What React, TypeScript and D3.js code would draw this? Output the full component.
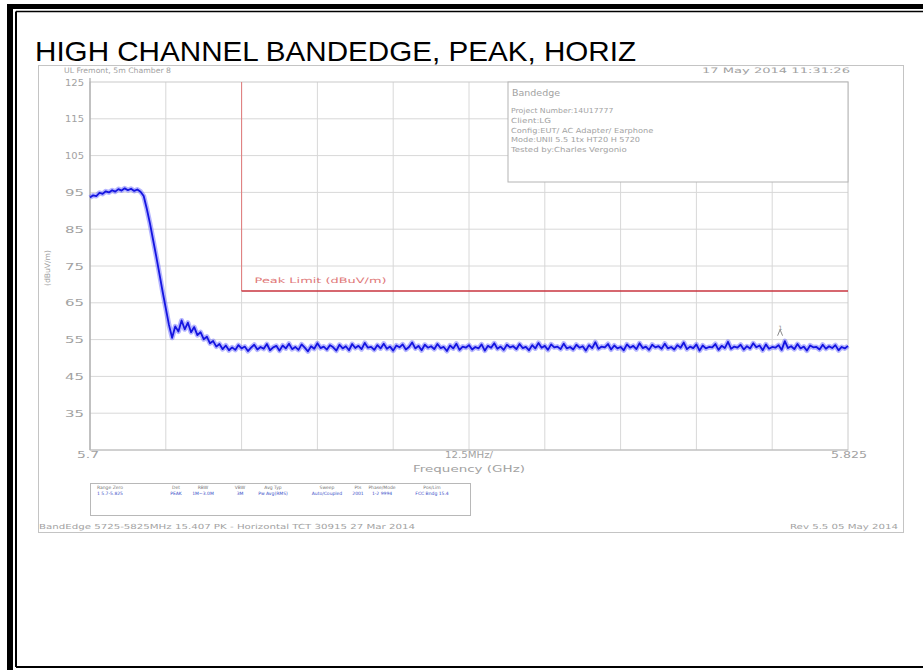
import React from "react";
import * as d3 from "d3";

const TITLE = "HIGH CHANNEL BANDEDGE, PEAK, HORIZ";
const F_START = 5.7;
const F_STOP = 5.825;
const Y_MIN = 25;
const Y_MAX = 125;
const yTicks = [125, 115, 105, 95, 85, 75, 65, 55, 45, 35];
const yGrid = [115, 105, 95, 85, 75, 65, 55, 45, 35];
const xDivisions = [1, 2, 3, 4, 5, 6, 7, 8, 9];
const DIV_MHZ = 12.5;

const limitStartFreq = 5.725;
const limitLevel = 68.2;
const limitLabel = "Peak Limit (dBuV/m)";

const plateauLevels = [93.6, 94.2, 94.0, 94.9, 94.6, 95.3, 95.0, 95.6, 95.2, 95.9, 95.5, 96.1, 95.6, 96.0, 95.4, 95.8, 95.2];
const rolloffLevels = [94.0, 90.5, 86.5, 82.0, 77.5, 72.8, 68.0, 63.5, 59.0, 55.5, 58.6, 57.2, 60.2, 57.8, 59.6, 57.0, 58.4, 56.2, 57.0, 55.1, 55.8, 54.0, 54.6, 53.1, 53.8, 52.4, 53.4, 52.1];
const floorLevels = [
  52.9, 52.2, 53.5, 52.6, 53.1, 51.9, 52.8, 53.6, 52.3, 53.0,
  52.5, 53.8, 52.1, 52.9, 53.3, 52.0, 53.4, 52.6, 53.9, 52.4,
  53.0, 52.2, 53.7, 52.8, 51.8, 53.2, 52.5, 54.0, 52.7, 53.1,
  52.3, 53.5, 52.9, 52.0, 53.6, 52.6, 53.2, 52.1, 53.8, 52.7,
  53.3, 52.4, 54.1, 52.8, 53.0, 52.2, 53.5, 52.6, 53.9, 52.5,
  53.1, 52.0, 53.4, 52.9, 53.7, 52.3, 53.0, 54.2, 52.6, 53.3,
  52.1, 53.6, 52.8, 53.2, 52.4, 53.8, 52.7, 53.0, 51.9, 53.4,
  52.6, 53.9, 52.2, 53.1, 52.8, 53.5, 52.3, 53.0, 52.6, 53.7,
  52.0, 53.3, 52.8, 54.0, 52.5, 53.1, 52.2, 53.6, 52.9, 53.2,
  52.4, 53.8, 52.7, 53.0, 52.1, 53.5, 52.6, 54.1, 52.8, 53.3,
  52.2, 53.7, 52.9, 53.1, 52.4, 53.9, 52.6, 53.0, 52.3, 53.6,
  52.8, 53.2, 52.0, 53.5, 52.7, 54.3, 52.5, 53.1, 52.9, 53.8,
  52.3, 53.4, 52.6, 53.0, 52.1, 53.7, 52.8, 53.3, 52.4, 54.0,
  52.7, 53.1, 52.2, 53.6, 52.9, 53.2, 52.5, 53.9, 52.6, 53.0,
  52.3, 53.5, 52.8, 54.2, 52.4, 53.1, 52.7, 53.7, 52.0, 53.4,
  52.6, 53.0, 52.9, 53.8, 52.2, 53.3, 52.7, 54.4, 52.5, 53.1,
  52.8, 53.6, 52.3, 53.2, 52.6, 54.0, 52.9, 53.4, 52.1, 53.7,
  52.5, 53.0, 52.8, 53.5, 52.2, 54.6, 52.7, 53.2, 52.4, 53.8,
  52.6, 53.1, 52.0, 53.4, 52.9, 53.0, 52.3, 53.6, 52.5, 53.2,
  52.7, 53.5, 52.1, 53.0, 52.6, 53.3,
];
const markerFreq = 5.8138;
const markerLevel = 56.6;

const infoLines = [
  "Project Number:14U17777",
  "Client:LG",
  "Config:EUT/ AC Adapter/ Earphone",
  "Mode:UNII 5.5 1tx HT20 H 5720",
  "Tested by:Charles Vergonio",
];
const tableHeaders = ["Range Zero", "Det", "RBW", "VBW", "Avg Typ", "Sweep", "Pts", "Phase/Mode", "Pos/Lim"];
const tableValues = ["1 5.7-5.825", "PEAK", "1M~3.0M", "3M", "Pw Avg(RMS)", "Auto/Coupled", "2001", "1-2 9994", "FCC Bndg 15.4"];
const tableCols = [110, 176, 203, 240, 273, 327, 358, 382, 432];

export default function App() {
  const W = 923, H = 670;
  const L = 90, R = 848, T = 82, B = 450;
  const levels = [...plateauLevels, ...rolloffLevels, ...floorLevels];
  const n = levels.length;
  const x = d3.scaleLinear().domain([F_START, F_STOP]).range([L, R]);
  const idx = d3.scaleLinear().domain([0, n - 1]).range([F_START, F_STOP]);
  const y = d3.scaleLinear().domain([Y_MIN, Y_MAX]).range([B, T]);
  const line = d3.line<number>().x((d, i) => x(idx(i))).y((d) => y(d));
  const gridFreqs = xDivisions.map((k) => F_START + (k * DIV_MHZ) / 1000);
  const gray = "#a2a2a2";
  const gridC = "#d8d8d8";
  const mono = "'DejaVu Sans', sans-serif";
  const boxL = 508, boxT = T, boxR = R, boxB = 182;
  const mx = x(markerFreq), my = y(markerLevel);
  const tracePath = line(levels) || "";

  return (
    <svg width={W} height={H} style={{ position: "absolute", left: 0, top: 0, background: "#fff" }}>
      {/* outer document frame */}
      <rect x={7} y={4} width={916} height={5} fill="#000" />
      <rect x={7} y={4} width={6} height={666} fill="#000" />
      <line x1={16} y1={11.5} x2={923} y2={11.5} stroke="#000" strokeWidth={1.5} />
      <line x1={16} y1={11.5} x2={16} y2={667} stroke="#000" strokeWidth={2} />
      <line x1={16} y1={667} x2={923} y2={667} stroke="#000" strokeWidth={2} />

      <text x={35} y={61} fontFamily="'Liberation Sans', Arial, sans-serif" fontSize={28} textLength={601} lengthAdjust="spacingAndGlyphs" fill="#000">{TITLE}</text>

      {/* scanned plot frame */}
      <rect x={38.5} y={65.5} width={865} height={467} fill="none" stroke="#c4c4c4" strokeWidth={1} />

      <text x={64} y={73} fontFamily={mono} fontSize={7.5} fill={gray} textLength={107} lengthAdjust="spacingAndGlyphs">UL Fremont, 5m Chamber 8</text>
      <text x={702} y={73} fontFamily={mono} fontSize={7.5} fill={gray} textLength={148} lengthAdjust="spacingAndGlyphs">17 May 2014    11:31:26</text>

      {/* grid */}
      {yGrid.map((v) => (
        <line key={"h" + v} x1={L} x2={y(v) < boxB ? boxL : R} y1={y(v)} y2={y(v)} stroke={gridC} strokeWidth={1} />
      ))}
      {gridFreqs.map((f, i) => (
        <line key={"v" + i} x1={x(f)} x2={x(f)} y1={x(f) > boxL ? boxB : T} y2={B} stroke={gridC} strokeWidth={1} />
      ))}
      <rect x={L} y={T} width={R - L} height={B - T} fill="none" stroke="#cacaca" strokeWidth={1} />
      <line x1={L} x2={L} y1={T - 4} y2={B} stroke="#aaaaaa" strokeWidth={1.2} />
      <line x1={L} x2={R} y1={B} y2={B} stroke="#bcbcbc" strokeWidth={1} />

      {/* y labels */}
      {yTicks.map((v) => (
        <text key={"yl" + v} x={84} y={y(v) + (v === 125 ? 3.5 : 3.5)} textAnchor="end" fontFamily={mono} fontSize={8.5} fill={gray} textLength={19} lengthAdjust="spacingAndGlyphs">{v}</text>
      ))}
      <text transform={`translate(50,268) rotate(-90)`} textAnchor="middle" fontFamily={mono} fontSize={7.5} fill={gray} textLength={36} lengthAdjust="spacingAndGlyphs">(dBuV/m)</text>

      {/* x labels */}
      <text x={x(F_START) - 2} y={458} textAnchor="middle" fontFamily={mono} fontSize={8.5} fill={gray} textLength={22} lengthAdjust="spacingAndGlyphs">5.7</text>
      <text x={x(F_STOP) + 1} y={458} textAnchor="middle" fontFamily={mono} fontSize={8.5} fill={gray} textLength={36} lengthAdjust="spacingAndGlyphs">5.825</text>
      <text x={(L + R) / 2} y={458} textAnchor="middle" fontFamily={mono} fontSize={8.5} fill={gray} textLength={48} lengthAdjust="spacingAndGlyphs">12.5MHz/</text>
      <text x={(L + R) / 2} y={472} textAnchor="middle" fontFamily={mono} fontSize={8.5} fill={gray} textLength={112} lengthAdjust="spacingAndGlyphs">Frequency (GHz)</text>

      {/* info box */}
      <rect x={boxL} y={boxT} width={boxR - boxL} height={boxB - boxT} fill="#fff" stroke="#b4b4b4" strokeWidth={1} />
      <text x={512} y={96} fontFamily={mono} fontSize={8} fill={gray} textLength={48} lengthAdjust="spacingAndGlyphs">Bandedge</text>
      {infoLines.map((t, i) => (
        <text key={"il" + i} x={511} y={113 + i * 9.8} fontFamily={mono} fontSize={7} fill={gray} textLength={t.length * 4.45} lengthAdjust="spacingAndGlyphs">{t}</text>
      ))}

      {/* limit */}
      <line x1={x(limitStartFreq)} x2={x(limitStartFreq)} y1={T} y2={y(limitLevel)} stroke="#e07a7a" strokeWidth={1} />
      <line x1={x(limitStartFreq)} x2={R} y1={y(limitLevel)} y2={y(limitLevel)} stroke="#c8343f" strokeWidth={1.6} />
      <text x={x(limitStartFreq) + 13} y={283} fontFamily={mono} fontSize={7.5} fill="#e07878" textLength={132} lengthAdjust="spacingAndGlyphs">{limitLabel}</text>

      {/* trace: soft noise band under the sweep line */}
      <path d={tracePath} fill="none" stroke="#5a5aff" strokeOpacity={0.45} strokeWidth={5} strokeLinejoin="round" />
      <path d={tracePath} fill="none" stroke="#1414e0" strokeWidth={1.8} strokeLinejoin="round" />

      {/* marker */}
      <path d={`M${mx - 2.5},${my + 2} L${mx},${my - 4} L${mx + 2.5},${my + 2}`} fill="none" stroke="#8a8a8a" strokeWidth={1} />
      <text x={mx - 1.5} y={my - 4} fontFamily={mono} fontSize={6} fill="#8a8a8a">1</text>

      {/* settings table */}
      <rect x={90.5} y={483.5} width={380} height={32} fill="#fff" stroke="#b8b8b8" strokeWidth={1} />
      {tableHeaders.map((h, i) => (
        <text key={"th" + i} x={tableCols[i]} y={489} textAnchor="middle" fontFamily={mono} fontSize={4.5} fill="#777">{h}</text>
      ))}
      {tableValues.map((v, i) => (
        <text key={"tv" + i} x={tableCols[i]} y={495} textAnchor="middle" fontFamily={mono} fontSize={4.5} fill="#3a50c8">{v}</text>
      ))}

      {/* footer */}
      <text x={39} y={529} fontFamily={mono} fontSize={7} fill={gray} textLength={376} lengthAdjust="spacingAndGlyphs">BandEdge 5725-5825MHz 15.407 PK - Horizontal TCT 30915 27 Mar 2014</text>
      <text x={898} y={529} textAnchor="end" fontFamily={mono} fontSize={7} fill={gray} textLength={108} lengthAdjust="spacingAndGlyphs">Rev 5.5 05 May 2014</text>
    </svg>
  );
}
